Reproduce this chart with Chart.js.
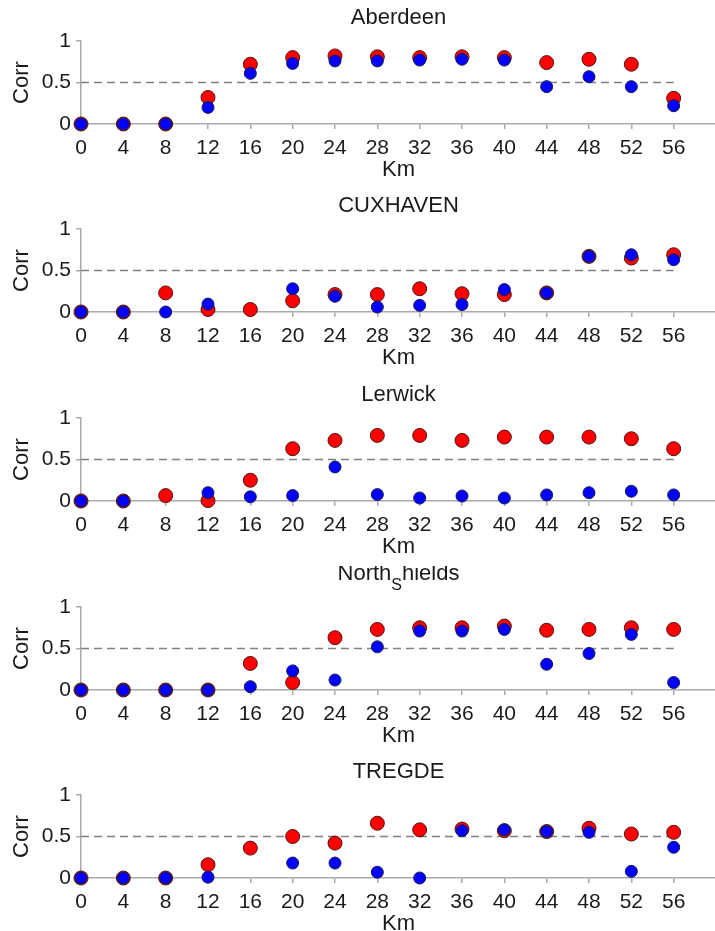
<!DOCTYPE html>
<html><head><meta charset="utf-8">
<script src="https://cdn.jsdelivr.net/npm/chart.js@4/dist/chart.umd.min.js"></script>
<style>
html,body{margin:0;padding:0;background:#fff;overflow:hidden;width:715px;height:931px;position:relative;}
.panel{position:absolute;left:0;width:724px;height:188px;}
</style></head><body>
<script>
// ---------- data ----------
const kmTicks = [0,4,8,12,16,20,24,28,32,36,40,44,48,52,56];
const corrTicks = [0,0.5,1];
const stations = ["Aberdeen","CUXHAVEN","Lerwick","North_Shields","TREGDE"];
const threshold = 0.5;

const redAberdeen = [0,0,0,0.32,0.72,0.80,0.82,0.81,0.80,0.81,0.80,0.74,0.78,0.72,0.31];
const blueAberdeen = [0,0,0,0.20,0.61,0.73,0.76,0.76,0.77,0.78,0.77,0.45,0.57,0.45,0.22];

const redCuxhaven = [0,0,0.23,0.03,0.03,0.135,0.21,0.21,0.28,0.22,0.21,0.23,0.67,0.65,0.69];
const blueCuxhaven = [0,0,0,0.095,null,0.28,0.19,0.06,0.08,0.09,0.27,0.23,0.67,0.69,0.63];

const redLerwick = [0,0,0.065,0.005,0.25,0.63,0.73,0.79,0.79,0.73,0.77,0.77,0.77,0.75,0.63];
const blueLerwick = [0,0,null,0.10,0.05,0.065,0.41,0.077,0.036,0.06,0.036,0.073,0.10,0.117,0.073];

const redNorthShields = [0,0,0,0,0.32,0.09,0.63,0.73,0.75,0.75,0.77,0.72,0.73,0.75,0.73];
const blueNorthShields = [0,0,0,0,0.04,0.23,0.12,0.52,0.71,0.71,0.73,0.31,0.44,0.67,0.09];

const redTregde = [0,0,0,0.16,0.36,0.50,0.42,0.66,0.58,0.59,0.57,0.56,0.60,0.53,0.55];
const blueTregde = [0,0,0,0.01,null,0.18,0.18,0.07,0.0,0.57,0.58,0.56,0.55,0.08,0.37];

const redSeries = [redAberdeen, redCuxhaven, redLerwick, redNorthShields, redTregde];
const blueSeries = [blueAberdeen, blueCuxhaven, blueLerwick, blueNorthShields, blueTregde];

// ---------- layout ----------
const panelTops = [0,188,377,566,754];
const FAMILY = '"Liberation Sans", Arial, Helvetica, sans-serif';
const AXIS = '#aaaaaa';
const TEXT = '#1a1a1a';

// title with TeX-like subscript (x_Y)
const subTitlePlugin = {
  id: 'subTitle',
  afterDraw(chart, args, opts) {
    const {ctx, chartArea} = chart;
    const text = opts.text || '';
    const parts = [];
    for (let i = 0; i < text.length; i++) {
      if (text[i] === '_' && i + 1 < text.length) { parts.push({t: text[i+1], sub: true}); i++; }
      else if (parts.length && !parts[parts.length-1].sub) parts[parts.length-1].t += text[i];
      else parts.push({t: text[i], sub: false});
    }
    const hasSub = parts.some(p => p.sub);
    const mainFont = '22px ' + FAMILY, subFont = '16px ' + FAMILY;
    ctx.save();
    let total = 0;
    parts.forEach(p => { ctx.font = p.sub ? subFont : mainFont; p.w = ctx.measureText(p.t).width; total += p.w; });
    let x = (chartArea.left + chartArea.right) / 2 - total / 2;
    const base = hasSub ? 14 : 24;
    ctx.fillStyle = TEXT;
    ctx.textBaseline = 'alphabetic';
    ctx.textAlign = 'left';
    parts.forEach(p => {
      ctx.font = p.sub ? subFont : mainFont;
      ctx.fillText(p.t, x, p.sub ? base + 10 : base);
      x += p.w;
    });
    ctx.restore();
  }
};

stations.forEach((name, idx) => {
  const div = document.createElement('div');
  div.className = 'panel';
  div.style.top = panelTops[idx] + 'px';
  const cv = document.createElement('canvas');
  div.appendChild(cv);
  document.body.appendChild(div);

  const reds = redSeries[idx], blues = blueSeries[idx];
  new Chart(cv, {
    type: 'scatter',
    data: {
      datasets: [
        {
          label: 'blue', order: 0, clip: false,
          data: kmTicks.map((k, i) => ({x: k, y: blues[i]})),
          pointRadius: 6, backgroundColor: '#0000ff', borderColor: '#1c1c48', borderWidth: 1
        },
        {
          label: 'red', order: 1, clip: false,
          data: kmTicks.map((k, i) => ({x: k, y: reds[i]})),
          pointRadius: 7, backgroundColor: '#ff0000', borderColor: '#4a1818', borderWidth: 1
        },
        {
          type: 'line', label: 'thr', order: 2,
          data: [{x: kmTicks[0], y: threshold}, {x: kmTicks[kmTicks.length-1], y: threshold}],
          borderColor: '#808080', borderWidth: 1.5, borderDash: [8, 5],
          pointRadius: 0, fill: false, tension: 0
        }
      ]
    },
    options: {
      responsive: true, maintainAspectRatio: false, animation: false,
      layout: {padding: {top: 41, left: 0, right: 0, bottom: 0}},
      plugins: {
        legend: {display: false}, tooltip: {enabled: false}, title: {display: false},
        subTitle: {text: name}
      },
      scales: {
        x: {
          type: 'linear', min: 0, max: 60,
          afterBuildTicks: s => { s.ticks = kmTicks.map(v => ({value: v})); },
          afterFit: s => { s.height = 64; },
          grid: {display: true, drawOnChartArea: false, drawTicks: true, tickLength: 5, color: AXIS, lineWidth: 1.5},
          border: {display: true, color: AXIS, width: 1.5},
          ticks: {font: {size: 21, family: FAMILY}, color: TEXT, padding: 7, maxRotation: 0, autoSkip: false,
                  callback: v => String(v)},
          title: {display: true, text: 'Km', color: TEXT, font: {size: 22, family: FAMILY}, padding: {top: 0, bottom: 5}}
        },
        y: {
          type: 'linear', min: 0, max: 1,
          afterBuildTicks: s => { s.ticks = corrTicks.map(v => ({value: v})); },
          afterFit: s => { s.width = 81; },
          grid: {display: true, drawOnChartArea: false, drawTicks: true, tickLength: 5, color: AXIS, lineWidth: 1.5},
          border: {display: true, color: AXIS, width: 1.5},
          ticks: {font: {size: 21, family: FAMILY}, color: TEXT, padding: 5, callback: v => String(v)},
          title: {display: true, text: 'Corr', color: TEXT, font: {size: 22, family: FAMILY}, padding: {top: 9, bottom: 0}}
        }
      }
    },
    plugins: [subTitlePlugin]
  });
});
</script>
</body></html>
